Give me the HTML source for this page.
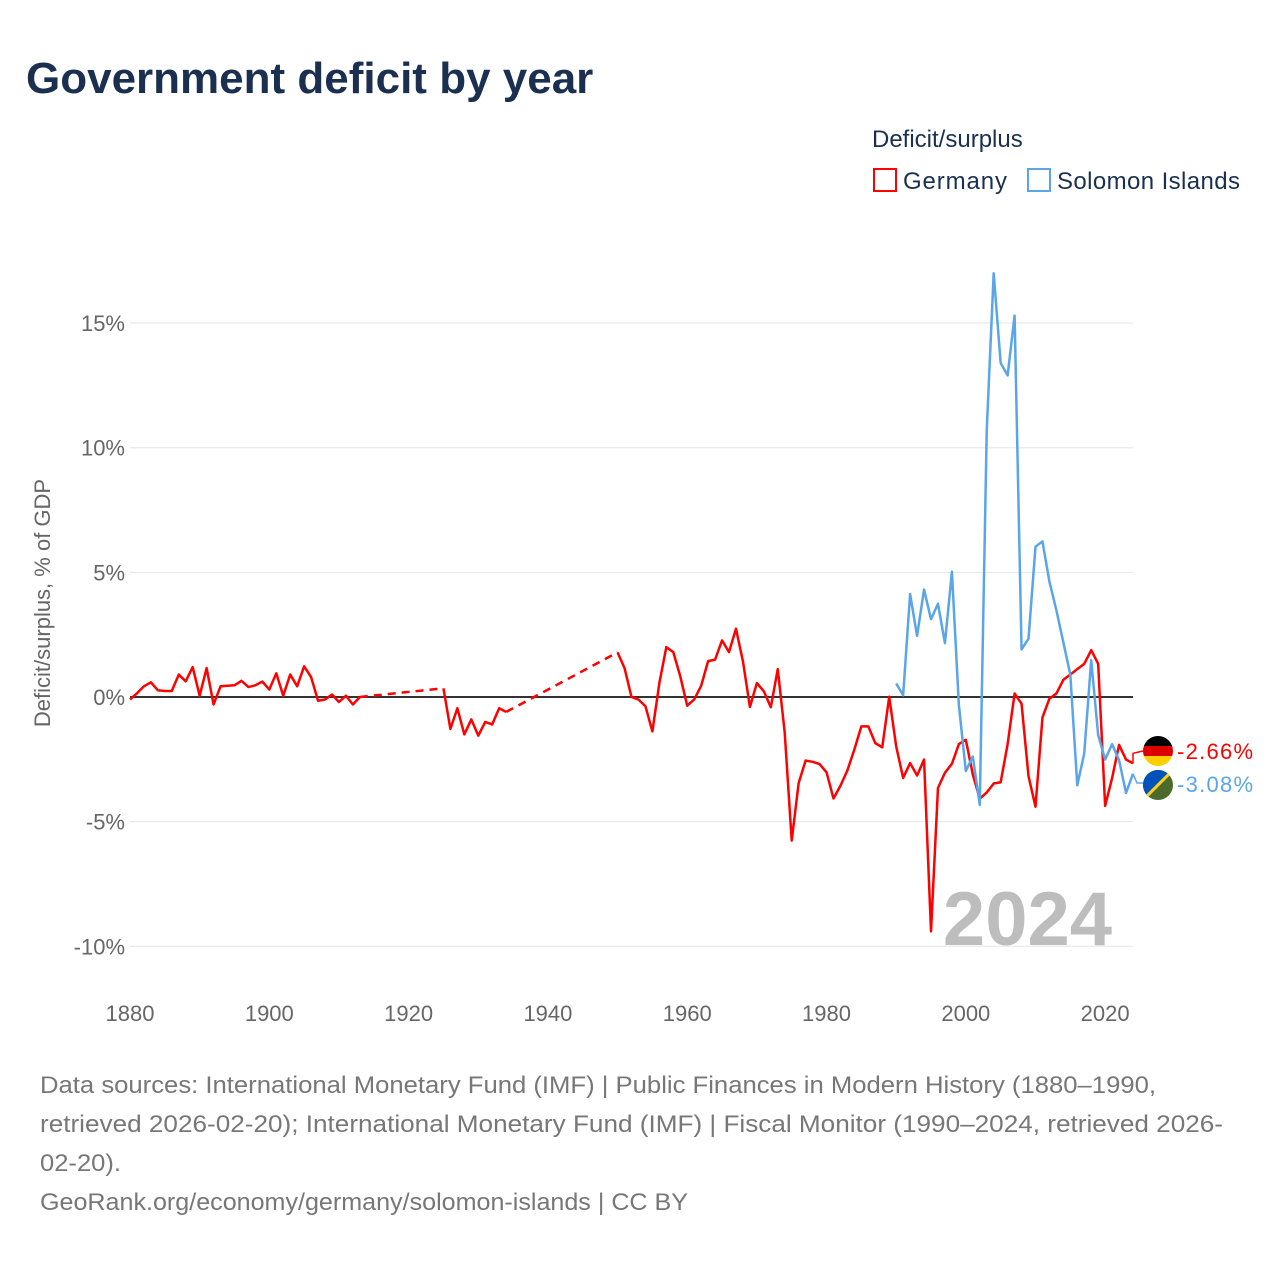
<!DOCTYPE html>
<html><head><meta charset="utf-8">
<style>
body{margin:0;background:#fff;font-family:"Liberation Sans",sans-serif;}
svg text{font-family:"Liberation Sans",sans-serif;}
</style></head>
<body>
<svg id="chart" width="1280" height="1280" xmlns="http://www.w3.org/2000/svg">
<text x="26" y="93" font-size="44" font-weight="bold" fill="#1b3050">Government deficit by year</text>
<text x="872" y="147" font-size="24" fill="#1b3050">Deficit/surplus</text>
<g>
<rect x="874" y="169" width="22" height="22" fill="none" stroke="#ff0000" stroke-width="2"/>
<text x="903" y="189" font-size="24" fill="#1b3050" textLength="104">Germany</text></g>
<g>
<rect x="1028" y="169" width="22" height="22" fill="none" stroke="#5aa5e8" stroke-width="2"/>
<text x="1057" y="189" font-size="24" fill="#1b3050" textLength="183">Solomon Islands</text></g>
<text transform="translate(50,603) rotate(-90)" text-anchor="middle" font-size="22" fill="#666">Deficit/surplus, % of GDP</text>
<g id="grid"></g><g id="yticks"></g><g id="xticks"></g>
<text x="1112" y="945" text-anchor="end" font-size="76" font-weight="bold" fill="#bdbdbd">2024</text>
<g id="series"></g>
<g font-size="24" fill="#777">
<text x="40" y="1093" textLength="1116" lengthAdjust="spacingAndGlyphs">Data sources: International Monetary Fund (IMF) | Public Finances in Modern History (1880–1990,</text>
<text x="40" y="1132" textLength="1183" lengthAdjust="spacingAndGlyphs">retrieved 2026-02-20); International Monetary Fund (IMF) | Fiscal Monitor (1990–2024, retrieved 2026-</text>
<text x="40" y="1171" textLength="81" lengthAdjust="spacingAndGlyphs">02-20).</text>
<text x="40" y="1210" textLength="648" lengthAdjust="spacingAndGlyphs">GeoRank.org/economy/germany/solomon-islands | CC BY</text>
</g>
</svg>
<script>
const yTicks=[-10,-5,0,5,10,15];
const xTicks=[1880,1900,1920,1940,1960,1980,2000,2020];
const deYears=[1880,1881,1882,1883,1884,1885,1886,1887,1888,1889,1890,1891,1892,1893,1894,1895,1896,1897,1898,1899,1900,1901,1902,1903,1904,1905,1906,1907,1908,1909,1910,1911,1912,1913,
1925,1926,1927,1928,1929,1930,1931,1932,1933,1934,
1950,1951,1952,1953,1954,1955,1956,1957,1958,1959,1960,1961,1962,1963,1964,1965,1966,1967,1968,1969,1970,1971,1972,1973,1974,1975,1976,1977,1978,1979,1980,1981,1982,1983,1984,1985,1986,1987,1988,1989,1990,1991,1992,1993,1994,1995,1996,1997,1998,1999,2000,2001,2002,2003,2004,2005,2006,2007,2008,2009,2010,2011,2012,2013,2014,2015,2016,2017,2018,2019,2020,2021,2022,2023,2024];
const deValues=[-0.1,0.15,0.43,0.59,0.27,0.24,0.24,0.9,0.63,1.2,0.05,1.16,-0.3,0.43,0.45,0.47,0.65,0.4,0.47,0.62,0.3,0.95,0.05,0.9,0.43,1.23,0.8,-0.15,-0.1,0.1,-0.2,0.05,-0.3,0.0,
0.35,-1.28,-0.45,-1.5,-0.9,-1.55,-1.0,-1.1,-0.45,-0.6,
1.79,1.16,0,-0.1,-0.37,-1.38,0.56,2.0,1.8,0.83,-0.35,-0.1,0.45,1.44,1.5,2.27,1.8,2.74,1.43,-0.4,0.56,0.23,-0.41,1.12,-1.44,-5.76,-3.45,-2.55,-2.6,-2.69,-3.02,-4.07,-3.56,-2.94,-2.1,-1.18,-1.18,-1.85,-2.02,0.01,
-1.98,-3.25,-2.65,-3.15,-2.51,-9.4,-3.65,-3.04,-2.68,-1.89,-1.72,-3.11,-4.08,-3.83,-3.47,-3.42,-1.89,0.14,-0.27,-3.18,-4.4,-0.82,-0.07,0.14,0.69,0.9,1.12,1.33,1.88,1.33,-4.37,-3.25,-1.92,-2.51,-2.66];
const sbYears=[1990,1991,1992,1993,1994,1995,1996,1997,1998,1999,2000,2001,2002,2003,2004,2005,2006,2007,2008,2009,2010,2011,2012,2013,2014,2015,2016,2017,2018,2019,2020,2021,2022,2023,2024];
const sbValues=[0.54,0.07,4.13,2.45,4.31,3.12,3.74,2.16,5.03,-0.32,-2.97,-2.39,-4.33,10.7,17.0,13.4,12.9,15.3,1.91,2.34,6.03,6.24,4.63,3.48,2.19,0.9,-3.54,-2.26,1.48,-1.53,-2.51,-1.89,-2.53,-3.85,-3.08];

const NS="http://www.w3.org/2000/svg";
const X=y=>130+(y-1880)*(1003/144);
const Y=v=>697-v*24.93;
function mk(tag,attrs,parent){const e=document.createElementNS(NS,tag);for(const k in attrs)e.setAttribute(k,attrs[k]);parent.appendChild(e);return e;}
const grid=document.getElementById('grid'),yt=document.getElementById('yticks'),xt=document.getElementById('xticks'),ser=document.getElementById('series');
yTicks.forEach(v=>{
  if(v!==0){const l=mk('line',{x1:130,x2:1133,y1:Y(v),y2:Y(v),stroke:'#e6e6e6','stroke-width':1},grid);
  
  }
  const t=mk('text',{x:125,y:Y(v)+8,'text-anchor':'end','font-size':22,fill:'#666'},yt);
  t.textContent=v+'%';
  
  
});
xTicks.forEach(y=>{
  const t=mk('text',{x:X(y),y:1021,'text-anchor':'middle','font-size':22,fill:'#666'},xt);
  t.textContent=y;
  
  
});
const zl=mk('line',{x1:130,x2:1133,y1:Y(0),y2:Y(0),stroke:'#333','stroke-width':2},grid);



function draw(years,vals,color,name){
  const g=mk('g',{},ser);
  
  
  let seg=[];
  const flush=()=>{if(seg.length>1)mk('polyline',{points:seg.join(' '),fill:'none',stroke:color,'stroke-width':2.5,'stroke-linejoin':'round'},g);};
  for(let i=0;i<years.length;i++){
    if(i>0&&years[i]-years[i-1]>1){
      flush();seg=[];
      mk('line',{x1:X(years[i-1]),y1:Y(vals[i-1]),x2:X(years[i]),y2:Y(vals[i]),stroke:color,'stroke-width':2.5,'stroke-dasharray':'8,6'},g);
    }
    seg.push(X(years[i])+','+Y(vals[i]));
  }
  flush();
}
draw(deYears,deValues,'#ff0000','germany-line');
draw(sbYears,sbValues,'#5aa5e8','solomon-islands-line');

const deLast=deValues[deValues.length-1],sbLast=sbValues[sbValues.length-1];
const endG=mk('g',{},ser);


mk('polyline',{points:`1133,${Y(deLast)} 1133,${Y(deLast)-10} 1143,751`,fill:'none',stroke:'#ff0000','stroke-width':1.5},endG);
mk('polyline',{points:`1133,${Y(sbLast)} 1137,783 1143,783`,fill:'none',stroke:'#5aa5e8','stroke-width':1.5},endG);
const defs=mk('defs',{},endG);
const c1=mk('clipPath',{id:'c1'},defs);mk('circle',{cx:1158,cy:751,r:15},c1);
const c2=mk('clipPath',{id:'c2'},defs);mk('circle',{cx:1158,cy:785,r:15},c2);
const f1=mk('g',{'clip-path':'url(#c1)'},endG);


mk('rect',{x:1143,y:736,width:30,height:10,fill:'#000'},f1);
mk('rect',{x:1143,y:746,width:30,height:10,fill:'#dd0000'},f1);
mk('rect',{x:1143,y:756,width:30,height:10,fill:'#ffce00'},f1);
const f2=mk('g',{'clip-path':'url(#c2)'},endG);


mk('rect',{x:1143,y:770,width:30,height:30,fill:'#4a6b2b'},f2);
mk('polygon',{points:'1143,770 1173,770 1143,800',fill:'#0051ba'},f2);
mk('line',{x1:1143,y1:800,x2:1173,y2:770,stroke:'#fcd116','stroke-width':3},f2);
const t1=mk('text',{x:1177,y:759,'font-size':22,fill:'#ff0000',textLength:76},endG);t1.textContent='-2.66%';
const t2=mk('text',{x:1177,y:792,'font-size':22,fill:'#5aa5e8',textLength:76},endG);t2.textContent='-3.08%';
</script>
</body></html>
